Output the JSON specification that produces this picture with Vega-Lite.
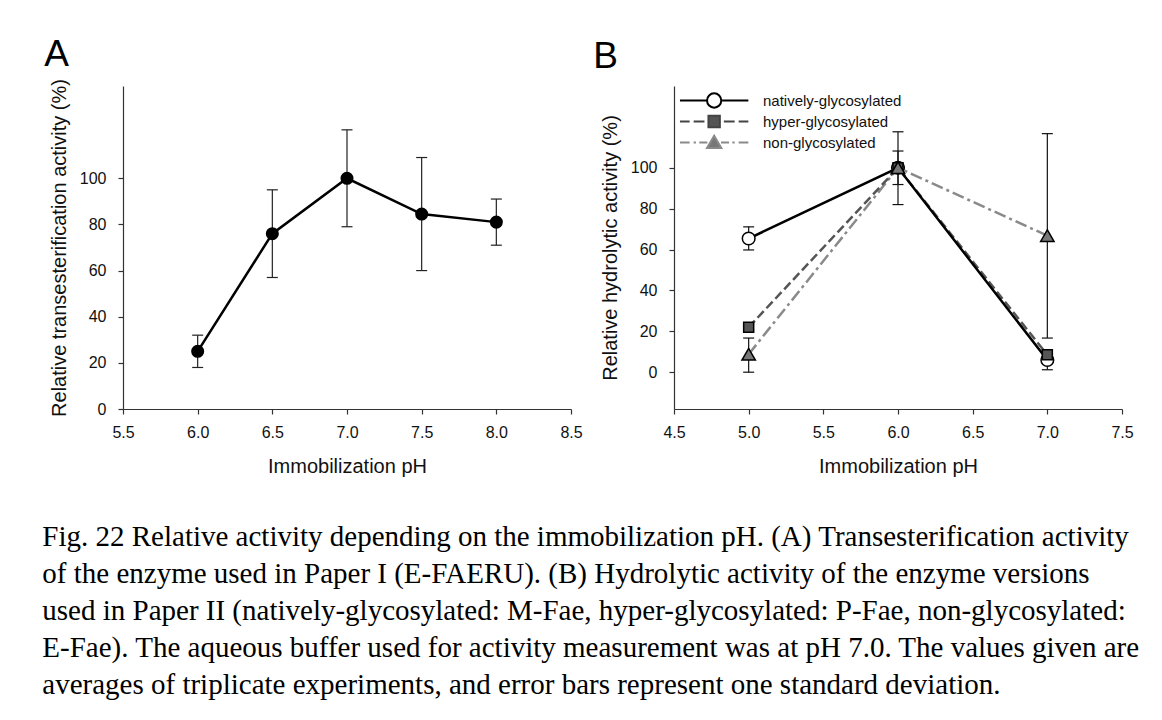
{
  "$schema": "https://vega.github.io/schema/vega-lite/v6.json",
  "background": "white",
  "padding": {"left": 42, "top": 35, "right": 10, "bottom": 10},
  "config": {
    "font": "Liberation Sans",
    "view": {"stroke": null},
    "axis": {
      "grid": false,
      "domainColor": "#333",
      "domainWidth": 1.2,
      "tickColor": "#333",
      "tickWidth": 1.2,
      "tickSize": 5,
      "labelFont": "Liberation Sans",
      "labelFontSize": 16,
      "labelColor": "#111",
      "titleFont": "Liberation Sans",
      "titleFontSize": 20,
      "titleFontWeight": "normal",
      "titleColor": "#111"
    },
    "axisX": {"labelPadding": 10, "titlePadding": 16, "labelFlush": false},
    "axisY": {"labelPadding": 12, "titlePadding": 10},
    "title": {"font": "Liberation Sans", "fontSize": 37, "fontWeight": "normal", "anchor": "start", "frame": "bounds", "color": "black"}
  },
  "title": {
    "text": [
      "Fig. 22 Relative activity depending on the immobilization pH. (A) Transesterification activity",
      "of the enzyme used in Paper I (E-FAERU). (B) Hydrolytic activity of the enzyme versions",
      "used in Paper II (natively-glycosylated: M-Fae, hyper-glycosylated: P-Fae, non-glycosylated:",
      "E-Fae). The aqueous buffer used for activity measurement was at pH 7.0. The values given are",
      "averages of triplicate experiments, and error bars represent one standard deviation."
    ],
    "orient": "bottom",
    "anchor": "start",
    "frame": "bounds",
    "font": "Liberation Serif",
    "fontSize": 29,
    "fontWeight": "normal",
    "lineHeight": 37,
    "baseline": "top",
    "offset": 47,
    "dx": -2,
    "color": "black"
  },
  "spacing": 10,
  "resolve": {
    "scale": {"shape": "independent", "fill": "independent", "stroke": "independent"},
    "legend": {"shape": "independent", "fill": "independent", "stroke": "independent"}
  },
  "hconcat": [
    {
      "width": 448,
      "height": 323,
      "title": {"text": "A", "offset": 5, "dx": -5},
      "data": {"values": [
        {"pH": 6.0, "value": 25, "lo": 18, "hi": 32},
        {"pH": 6.5, "value": 76, "lo": 57, "hi": 95},
        {"pH": 7.0, "value": 100, "lo": 79, "hi": 121},
        {"pH": 7.5, "value": 84.5, "lo": 60, "hi": 109},
        {"pH": 8.0, "value": 81, "lo": 71, "hi": 91}
      ]},
      "encoding": {
        "x": {"field": "pH", "type": "quantitative", "title": "Immobilization pH",
              "scale": {"domain": [5.5, 8.5], "nice": false, "zero": false},
              "axis": {"values": [5.5, 6, 6.5, 7, 7.5, 8, 8.5], "format": ".1f"}}
      },
      "layer": [
        {"mark": {"type": "rule", "color": "#222", "strokeWidth": 1.2},
         "encoding": {"y": {"field": "lo", "type": "quantitative", "title": "Relative transesterification activity (%)",
                            "scale": {"domain": [0, 140], "nice": false},
                            "axis": {"values": [0, 20, 40, 60, 80, 100]}},
                      "y2": {"field": "hi"}}},
        {"mark": {"type": "tick", "orient": "horizontal", "size": 11, "thickness": 1.2, "color": "#222", "opacity": 1},
         "encoding": {"y": {"field": "lo", "type": "quantitative", "title": "Relative transesterification activity (%)"}}},
        {"mark": {"type": "tick", "orient": "horizontal", "size": 11, "thickness": 1.2, "color": "#222", "opacity": 1},
         "encoding": {"y": {"field": "hi", "type": "quantitative", "title": "Relative transesterification activity (%)"}}},
        {"mark": {"type": "line", "color": "black", "strokeWidth": 2.5},
         "encoding": {"y": {"field": "value", "type": "quantitative", "title": "Relative transesterification activity (%)"}}},
        {"mark": {"type": "point", "filled": true, "color": "black", "size": 170, "opacity": 1},
         "encoding": {"y": {"field": "value", "type": "quantitative", "title": "Relative transesterification activity (%)"}}}
      ]
    },
    {
      "width": 448,
      "height": 323,
      "title": {"text": "B", "offset": 10, "dx": -7},
      "data": {"values": [
        {"pH": 5.0, "series": "natively-glycosylated", "value": 65.4, "lo": 59.8, "hi": 71.1},
        {"pH": 6.0, "series": "natively-glycosylated", "value": 100, "lo": 91.8, "hi": 108.2},
        {"pH": 7.0, "series": "natively-glycosylated", "value": 6, "lo": 1.2, "hi": 10.8},
        {"pH": 5.0, "series": "hyper-glycosylated", "value": 22, "lo": 20.5, "hi": 23.5},
        {"pH": 6.0, "series": "hyper-glycosylated", "value": 100, "lo": 98, "hi": 102},
        {"pH": 7.0, "series": "hyper-glycosylated", "value": 8.5, "lo": 7, "hi": 10},
        {"pH": 5.0, "series": "non-glycosylated", "value": 8.8, "lo": 0, "hi": 16.7},
        {"pH": 6.0, "series": "non-glycosylated", "value": 100, "lo": 82, "hi": 117.6},
        {"pH": 7.0, "series": "non-glycosylated", "value": 66.8, "lo": 16.7, "hi": 116.7}
      ]},
      "encoding": {
        "x": {"field": "pH", "type": "quantitative", "title": "Immobilization pH",
              "scale": {"domain": [4.5, 7.5], "nice": false, "zero": false},
              "axis": {"values": [4.5, 5, 5.5, 6, 6.5, 7, 7.5], "format": ".1f"}},
        "y": {"field": "value", "type": "quantitative", "title": "Relative hydrolytic activity (%)",
              "scale": {"domain": [-18, 140], "nice": false, "zero": false},
              "axis": {"values": [0, 20, 40, 60, 80, 100]}}
      },
      "layer": [
        {"transform": [{"filter": "datum.series === 'non-glycosylated'"}],
         "mark": {"type": "line", "strokeWidth": 2.5, "color": "#8a8a8a", "strokeDash": [12, 4, 3, 4]}},
        {"transform": [{"filter": "datum.series === 'hyper-glycosylated'"}],
         "mark": {"type": "line", "strokeWidth": 2.5, "color": "#555555", "strokeDash": [9, 4]}},
        {"transform": [{"filter": "datum.series === 'natively-glycosylated'"}],
         "mark": {"type": "line", "strokeWidth": 2.5, "color": "#000000"}},
        {"mark": {"type": "rule", "color": "#111", "strokeWidth": 1.2},
         "encoding": {"y": {"field": "lo", "type": "quantitative", "title": "Relative hydrolytic activity (%)"}, "y2": {"field": "hi"}, "detail": {"field": "series"}}},
        {"mark": {"type": "tick", "orient": "horizontal", "size": 11, "thickness": 1.2, "color": "#111", "opacity": 1},
         "encoding": {"y": {"field": "lo", "type": "quantitative", "title": "Relative hydrolytic activity (%)"}}},
        {"mark": {"type": "tick", "orient": "horizontal", "size": 11, "thickness": 1.2, "color": "#111", "opacity": 1},
         "encoding": {"y": {"field": "hi", "type": "quantitative", "title": "Relative hydrolytic activity (%)"}}},
        {"transform": [{"filter": "datum.series === 'natively-glycosylated'"}],
         "mark": {"type": "point", "shape": "circle", "filled": true, "fill": "#ffffff", "stroke": "black", "strokeWidth": 1.5, "size": 160, "opacity": 1}},
        {"transform": [{"filter": "datum.series === 'hyper-glycosylated'"}],
         "mark": {"type": "point", "shape": "square", "filled": true, "fill": "#555555", "stroke": "black", "strokeWidth": 1.5, "size": 100, "opacity": 1}},
        {"transform": [{"filter": "datum.series === 'non-glycosylated'"}],
         "mark": {"type": "point", "shape": "triangle-up", "filled": true, "fill": "#777777", "stroke": "black", "strokeWidth": 1.5, "size": 180, "opacity": 1}},
        {"transform": [{"filter": "false"}],
         "mark": {"type": "point", "size": 130, "strokeWidth": 2, "opacity": 1},
         "encoding": {
           "shape": {"field": "series", "type": "nominal",
                     "scale": {"domain": ["natively-glycosylated", "hyper-glycosylated", "non-glycosylated"],
                               "range": [
                                 "M-1.5,0L3.25,0M5.75,0L10.5,0M5.75,0A1.25,1.25,0,1,1,3.25,0A1.25,1.25,0,1,1,5.75,0Z",
                                 "M-1.5,0L0.2,0M0.9,0L2.8,0M6.2,0L8.1,0M8.8,0L10.5,0M3.5,-1L5.5,-1L5.5,1L3.5,1Z",
                                 "M-1.5,0L0.2,0M0.9,0L1.3,0M1.9,0L3.3,0M5.7,0L7.1,0M7.7,0L8.1,0M8.8,0L10.5,0M4.5,-1.2L5.75,0.95L3.25,0.95Z"
                               ]},
                     "legend": {
                       "title": null, "orient": "top-left", "offset": 7,
                       "labelFont": "Liberation Sans", "labelFontSize": 15, "labelColor": "#111",
                       "labelOffset": 67, "rowPadding": -1, "padding": 0,
                       "symbolSize": 130, "symbolStrokeWidth": 2, "symbolOpacity": 1
                     }},
           "fill": {"field": "series", "type": "nominal",
                    "scale": {"domain": ["natively-glycosylated", "hyper-glycosylated", "non-glycosylated"], "range": ["#ffffff", "#555555", "#777777"]}},
           "stroke": {"field": "series", "type": "nominal",
                      "scale": {"domain": ["natively-glycosylated", "hyper-glycosylated", "non-glycosylated"], "range": ["#000000", "#444444", "#8a8a8a"]}}
         }}
      ]
    }
  ]
}
